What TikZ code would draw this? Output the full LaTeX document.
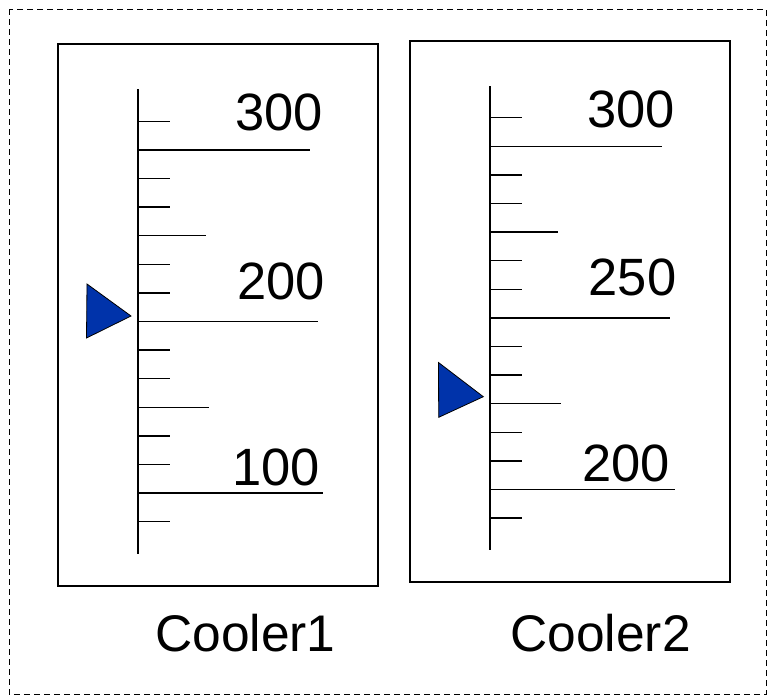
\documentclass[tikz,border=0pt]{standalone}
\usepackage{fontspec}
\setmainfont{Liberation Sans}
\usepackage{tikz}

\definecolor{pointerblue}{RGB}{0,51,170}
\tikzset{
  panel/.style={draw, line width=1.7pt},
  scaleline/.style={line width=1.7pt},
  tickline/.style={line width=1.4pt},
  pointer/.style={draw, fill=pointerblue, line width=0.8pt, line join=miter},
  value/.style={inner sep=0pt, font=\fontsize{52.5}{62}\selectfont},
  caption/.style={inner sep=0pt, font=\fontsize{51.5}{62}\selectfont}
}

\begin{document}
\begin{tikzpicture}[x=1pt,y=-1pt]
    \useasboundingbox (0,0) rectangle (767,697);

    % Dashed outer frame
    \draw[dash pattern=on 6pt off 4pt, line width=0.9pt] (9,9) rectangle (766,694);

    % Cooler1 panel and scale
    \draw[panel] (58,44) rectangle (378,586);
    \draw[scaleline] (138,89) -- (138,554);
    \foreach \y in {121.2,178.4,207,264.2,292.8,350,378.6,435.8,464.4,521.6}
        \draw[tickline] (138,\y) -- (170,\y);
    \draw[tickline] (138,235.6) -- (206,235.6);
    \draw[tickline] (138,407.2) -- (209,407.2);
    \draw[tickline] (138,149.8) -- (310,149.8);
    \draw[tickline] (138,321.4) -- (318,321.4);
    \draw[tickline] (138,493) -- (323,493);

    % Values of Cooler1
    \node[value] (c1high) at (279,112) {300};
    \node[value] (c1mid) at (281,281) {200};
    \node[value] (c1low) at (276,467) {100};

    % Pointer of Cooler1
    \draw[pointer] (87,284) -- (131,316) -- (86.5,338) -- cycle;

    % Cooler2 panel and scale
    \draw[panel] (410,41) rectangle (730,582);
    \draw[scaleline] (490,86) -- (490,550);
    \foreach \y in {117.6,174.8,203.4,260.6,289.2,346.4,375,432.2,460.8,518}
        \draw[tickline] (490,\y) -- (522,\y);
    \draw[tickline] (490,232) -- (558,232);
    \draw[tickline] (490,403.6) -- (561,403.6);
    \draw[tickline] (490,146.2) -- (662,146.2);
    \draw[tickline] (490,317.8) -- (670,317.8);
    \draw[tickline] (490,489.4) -- (675,489.4);

    % Values of Cooler2
    \node[value] (c2high) at (631,109) {300};
    \node[value] (c2mid) at (632.5,277) {250};
    \node[value] (c2low) at (626,463) {200};

    % Pointer of Cooler2
    \draw[pointer] (438.5,362.5) -- (483.3,396.7) -- (438.7,417.3) -- cycle;

    % Names under the panels
    \node[caption] (cooler1) at (245.5,633) {Cooler1};
    \node[caption] (cooler2) at (600.5,633) {Cooler2};
\end{tikzpicture}
\end{document}
